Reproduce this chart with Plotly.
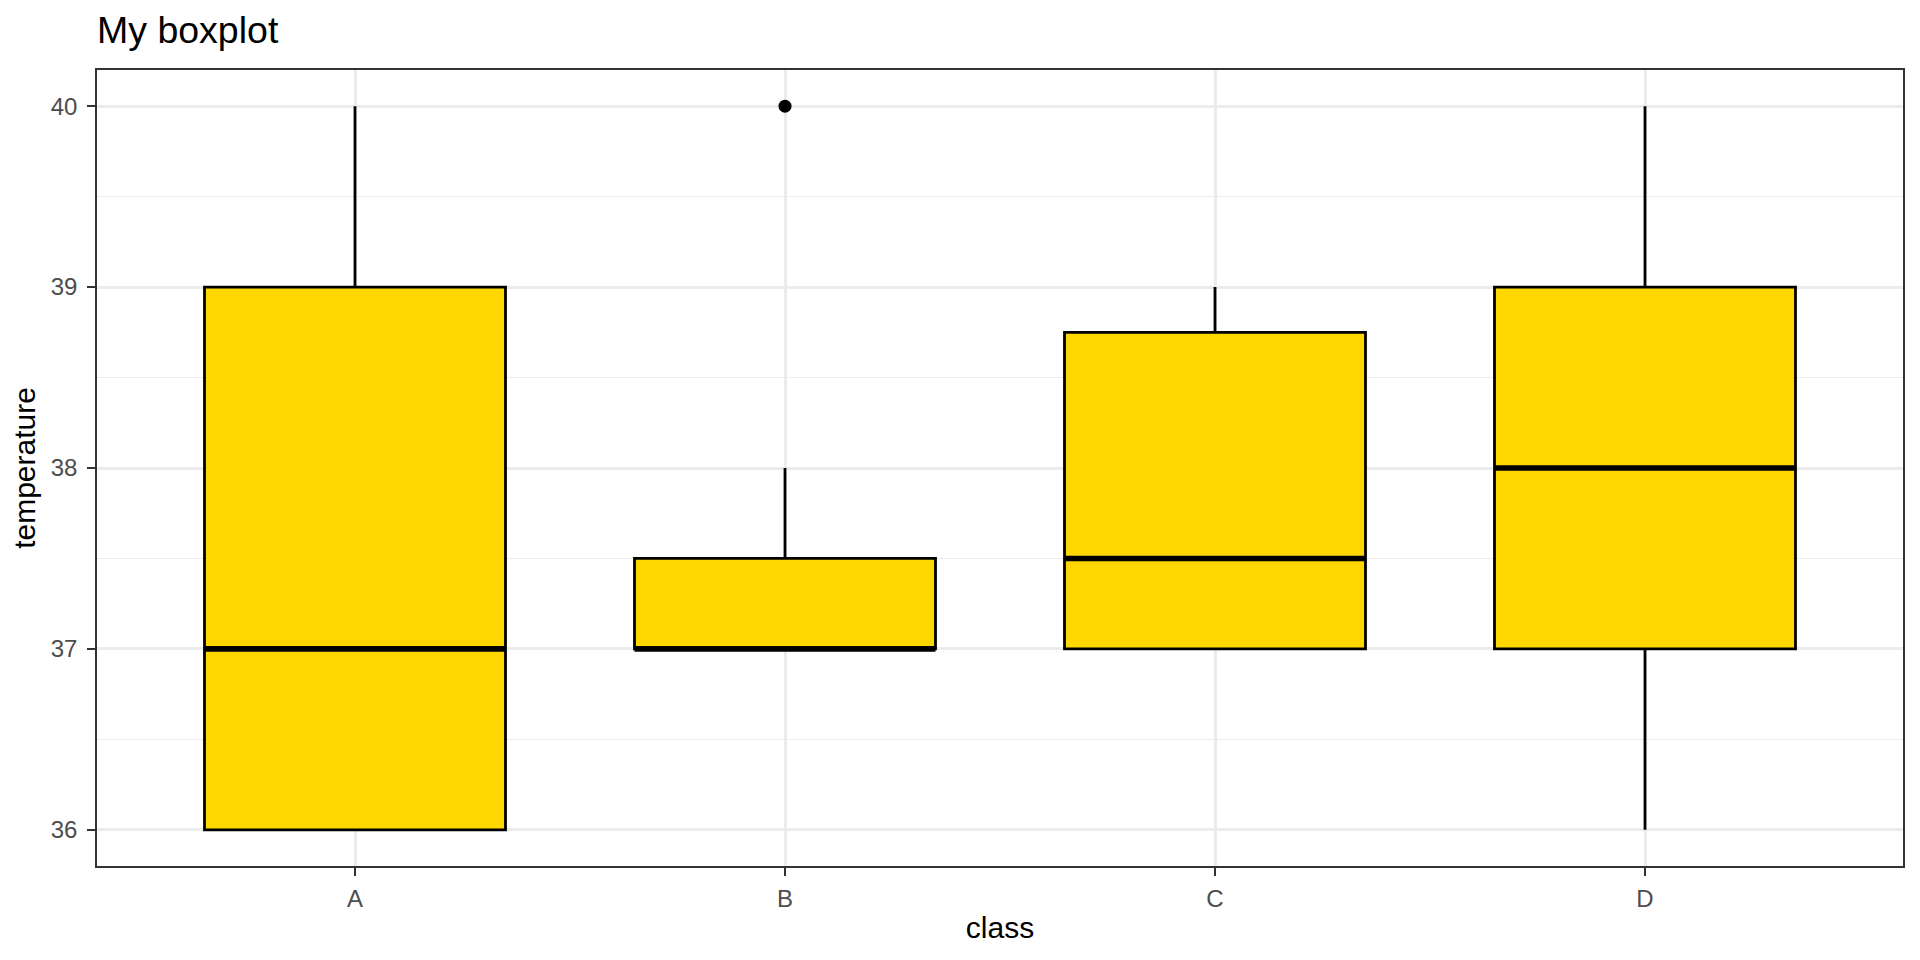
import plotly.graph_objects as go

classes = ["A", "B", "C", "D"]
lower_whisker = [36, 37, 37, 36]
q1 = [36, 37, 37, 37]
median = [37, 37, 37.5, 38]
q3 = [39, 37.5, 38.75, 39]
upper_whisker = [40, 38, 39, 40]
outlier_class = ["B"]
outlier_value = [40]

box_width = 0.7
pos = list(range(len(classes)))

fig = go.Figure()
fig.add_trace(go.Box(
    x=pos, q1=q1, median=median, q3=q3,
    lowerfence=lower_whisker, upperfence=upper_whisker,
    width=box_width, whiskerwidth=0,
    fillcolor="#FFD700", line=dict(color="black", width=2.8),
    boxpoints=False, showlegend=False, hoverinfo="skip",
))

# thicker median lines (ggplot fatten = 2)
mx, my = [], []
for p, m in zip(pos, median):
    mx += [p - box_width / 2, p + box_width / 2, None]
    my += [m, m, None]
fig.add_trace(go.Scatter(x=mx, y=my, mode="lines",
                         line=dict(color="black", width=5.6),
                         showlegend=False, hoverinfo="skip"))

fig.add_trace(go.Scatter(
    x=[classes.index(c) for c in outlier_class], y=outlier_value,
    mode="markers", marker=dict(color="black", size=13),
    showlegend=False, hoverinfo="skip"))

grid = "#EBEBEB"
border = "#333333"
fig.update_layout(
    width=1920, height=960,
    margin=dict(l=89, r=25, t=62, b=102),
    paper_bgcolor="white", plot_bgcolor="white",
    font=dict(family="Liberation Sans, Arial, sans-serif", color="black"),
    title=dict(text="My boxplot", x=0, xref="paper", xanchor="left",
               y=1 - 22 / 960, yref="container", yanchor="middle",
               font=dict(size=37.5, color="black")),
    xaxis=dict(
        range=[-0.6, len(classes) - 0.4], tickvals=pos, ticktext=classes,
        showgrid=True, gridcolor=grid, gridwidth=2.6, zeroline=False,
        showline=True, linecolor=border, linewidth=1.6, mirror=True,
        ticks="outside", ticklen=8, tickwidth=2.4, tickcolor=border,
        tickfont=dict(size=24, color="#4D4D4D"), ticklabelstandoff=2,
        title=dict(text="class", font=dict(size=30, color="black"), standoff=6),
    ),
    yaxis=dict(
        range=[35.8, 40.2], tickvals=[36, 37, 38, 39, 40],
        showgrid=True, gridcolor=grid, gridwidth=2.6, zeroline=False,
        minor=dict(dtick=0.5, tick0=36, showgrid=True, gridcolor=grid, gridwidth=1.3, ticks=""),
        showline=True, linecolor=border, linewidth=1.6, mirror=True,
        ticks="outside", ticklen=8, tickwidth=2.4, tickcolor=border,
        tickfont=dict(size=24, color="#4D4D4D"), ticklabelstandoff=5,
        title=dict(text="temperature", font=dict(size=30, color="black"), standoff=10),
    ),
)

fig.write_html("out.html")
